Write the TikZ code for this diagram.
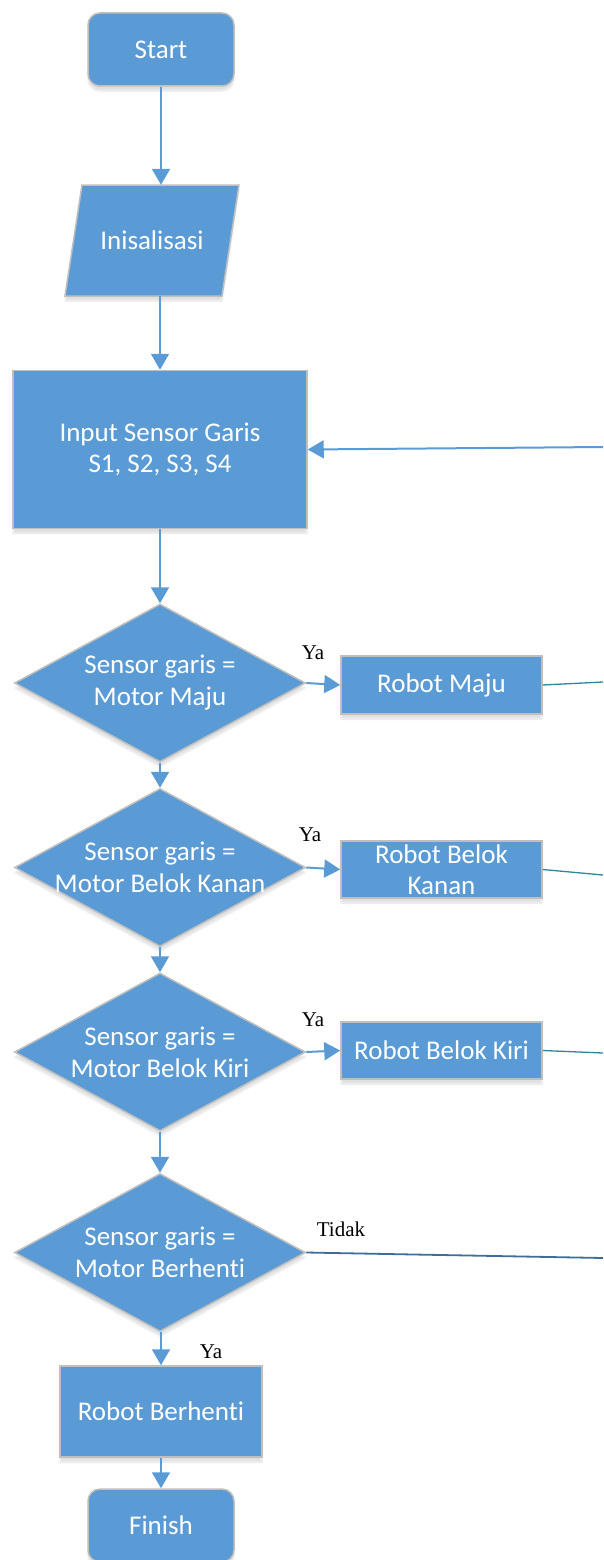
\documentclass[tikz,border=0pt]{standalone}
\usepackage{fontspec}
\setmainfont{Carlito}[Ligatures=CommonOff]
\newfontfamily\answerfont{Liberation Serif}
\usetikzlibrary{shapes.geometric,arrows.meta,shadows.blur,calc}
\definecolor{flowfill}{HTML}{5B9BD5}
\definecolor{flowedge}{HTML}{BFBFBF}
\definecolor{loopteal}{HTML}{31849B}
\definecolor{loopnavy}{HTML}{3E6C9B}

\begin{document}
\begin{tikzpicture}[x=1pt,y=-1pt,
  shapebase/.style={fill=flowfill, draw=flowedge, line width=1.5pt,
    blur shadow={shadow xshift=0pt, shadow yshift=-5pt, shadow opacity=12, shadow blur steps=6}},
  caption/.style={text=white, font=\fontsize{27}{32}\selectfont, align=center},
  terminal/.style={shapebase, caption, rectangle, rounded corners=12pt,
    minimum width=146pt, minimum height=73pt, inner sep=0pt},
  process/.style={shapebase, caption, rectangle, inner sep=0pt},
  decision/.style={shapebase, diamond, minimum width=291pt, minimum height=158pt, inner sep=0pt},
  flow/.style={draw=flowfill, line width=2pt, -{Triangle[width=18pt,length=16pt]}},
  answer/.style={font=\answerfont\fontsize{21}{24}\selectfont, inner sep=0pt}]

\useasboundingbox (0,0) rectangle (603,1560);

% start and initialisation
\node[terminal] (start) at (161,49.5) {Start};
\path[shapebase] (82,185) -- (239,185) -- (222,296) -- (65,296) -- cycle;
\node[caption, minimum width=157pt, minimum height=111pt, inner sep=0pt] (init) at (152,240.5) {Inisalisasi};

% reading the line sensors
\node[process, minimum width=294pt, minimum height=158pt, font=\fontsize{27}{31}\selectfont]
  (input) at (160,449.5) {Input Sensor Garis\\S1, S2, S3, S4};

% decisions
\node[decision] (d1) at (160,683) {};
\node[caption] (t1) at (d1) {Sensor garis =\\Motor Maju};
\node[decision] (d2) at (160,867.5) {};
\node[caption] (t2) at (d2) {Sensor garis =\\Motor Belok Kanan};
\node[decision] (d3) at (160,1052) {};
\node[caption] (t3) at (d3) {Sensor garis =\\Motor Belok Kiri};
\node[decision] (d4) at (160,1252.5) {};
\node[caption] (t4) at (d4) {Sensor garis =\\Motor Berhenti};

% actions
\node[process, minimum width=201pt, minimum height=58pt] (maju) at (441.5,685) {Robot Maju};
\node[process, minimum width=201pt, minimum height=57pt, font=\fontsize{27}{31}\selectfont]
  (kanan) at (441.5,869.5) {Robot Belok\\Kanan};
\node[process, minimum width=201pt, minimum height=57pt] (kiri) at (441.5,1050.5) {Robot Belok Kiri};
\node[process, minimum width=202pt, minimum height=91pt] (stop) at (161,1411.5) {Robot Berhenti};
\node[terminal] (finish) at (161,1525.5) {Finish};

% main flow
\draw[flow] (start.south) -- (start.south |- init.north);
\draw[flow] (input.north |- init.south) -- (input.north);
\draw[flow] (input.south) -- (d1.north);
\draw[flow] (d1.south) -- (d2.north);
\draw[flow] (d2.south) -- (d3.north);
\draw[flow] (d3.south) -- (d4.north);
\draw[flow] (stop.north |- d4.south) -- (stop.north);
\draw[flow] (stop.south) -- (finish.north);

% yes branches
\draw[flow] (d1.east) -- (maju.west);
\draw[flow] (d2.east) -- (kanan.west);
\draw[flow] (d3.east) -- (kiri.west);

% return lines to the right edge
\coordinate (railin) at (603,447);
\coordinate (rail1) at (603,682);
\coordinate (rail2) at (603,875);
\coordinate (rail3) at (603,1053);
\coordinate (rail4) at (603,1258);
\draw[flow] (railin) -- (input.east);
\draw[loopteal, line width=1.3pt] (maju.east) -- (rail1);
\draw[loopteal, line width=1.3pt] (kanan.east) -- (rail2);
\draw[loopteal, line width=1.3pt] (kiri.east) -- (rail3);
\draw[loopnavy, line width=1.8pt] (d4.east) -- (rail4);

% branch labels
\node[answer] (ya1) at (313,653) {Ya};
\node[answer] (ya2) at (310,835) {Ya};
\node[answer] (ya3) at (313,1020) {Ya};
\node[answer] (tidak) at (341,1229) {Tidak};
\node[answer] (ya4) at (211,1352) {Ya};
\end{tikzpicture}
\end{document}
